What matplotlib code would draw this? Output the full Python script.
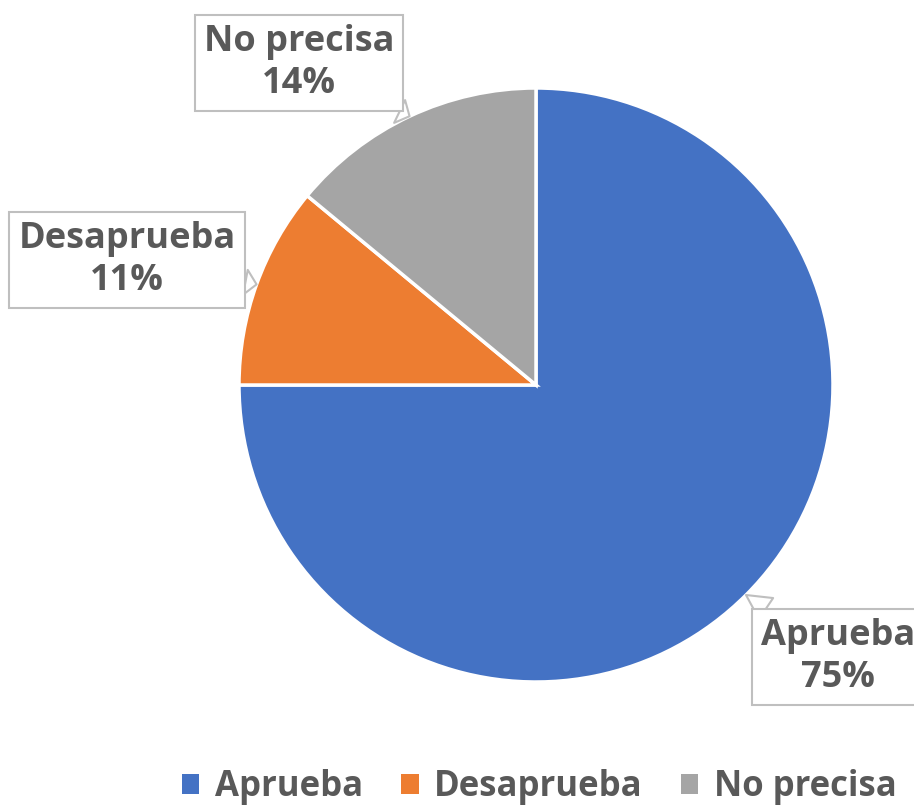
import numpy as np
import matplotlib.pyplot as plt
from matplotlib.patches import Patch

categorias = ["Aprueba", "Desaprueba", "No precisa"]
porcentajes = [75, 11, 14]
colores = ["#4472C4", "#ED7D31", "#A5A5A5"]

TEXTO = "#595959"
BORDE = "#BFBFBF"
FUENTE = ["Open Sans", "DejaVu Sans"]

# posiciones de las etiquetas (px, origen abajo-izquierda)
pos_etiquetas = [(838, 152), (127, 549), (299, 746)]

fig = plt.figure(figsize=(9.14, 8.09), dpi=100)
ax = fig.add_axes([0, 0, 1, 1])
ax.set_xlim(0, 914)
ax.set_ylim(0, 809)
ax.set_aspect("equal")
ax.axis("off")

centro = (536, 424)
radio = 297
wedges, _ = ax.pie(porcentajes, colors=colores, startangle=90, counterclock=False,
                   center=centro, radius=radio,
                   wedgeprops=dict(edgecolor="white", linewidth=2.5))
ax.set_xlim(0, 914)
ax.set_ylim(0, 809)

for w, cat, p, pos in zip(wedges, categorias, porcentajes, pos_etiquetas):
    ang = np.deg2rad((w.theta1 + w.theta2) / 2)
    punta = (centro[0] + radio * np.cos(ang), centro[1] + radio * np.sin(ang))
    ax.annotate(f"{cat}\n{p}%", xy=punta, xytext=pos, ha="center", va="center",
                fontsize=26, fontweight="bold", color=TEXTO, family=FUENTE,
                linespacing=1.2, annotation_clip=False,
                bbox=dict(boxstyle="square,pad=0.25", fc="white", ec=BORDE, lw=1.5),
                arrowprops=dict(arrowstyle="wedge,tail_width=0.7,shrink_factor=0.5",
                                fc="white", ec=BORDE, lw=1.5, shrinkA=0, shrinkB=0))

handles = [Patch(facecolor=c, edgecolor="none") for c in colores]
leg = fig.legend(handles, categorias, loc="center", bbox_to_anchor=(0.59, 0.027),
                 ncol=3, frameon=False, handlelength=0.5, handleheight=0.5,
                 handletextpad=0.45, columnspacing=1.1,
                 prop=dict(family=FUENTE, weight="bold", size=25))
for t in leg.get_texts():
    t.set_color(TEXTO)

fig.savefig("out.png", dpi=100)
